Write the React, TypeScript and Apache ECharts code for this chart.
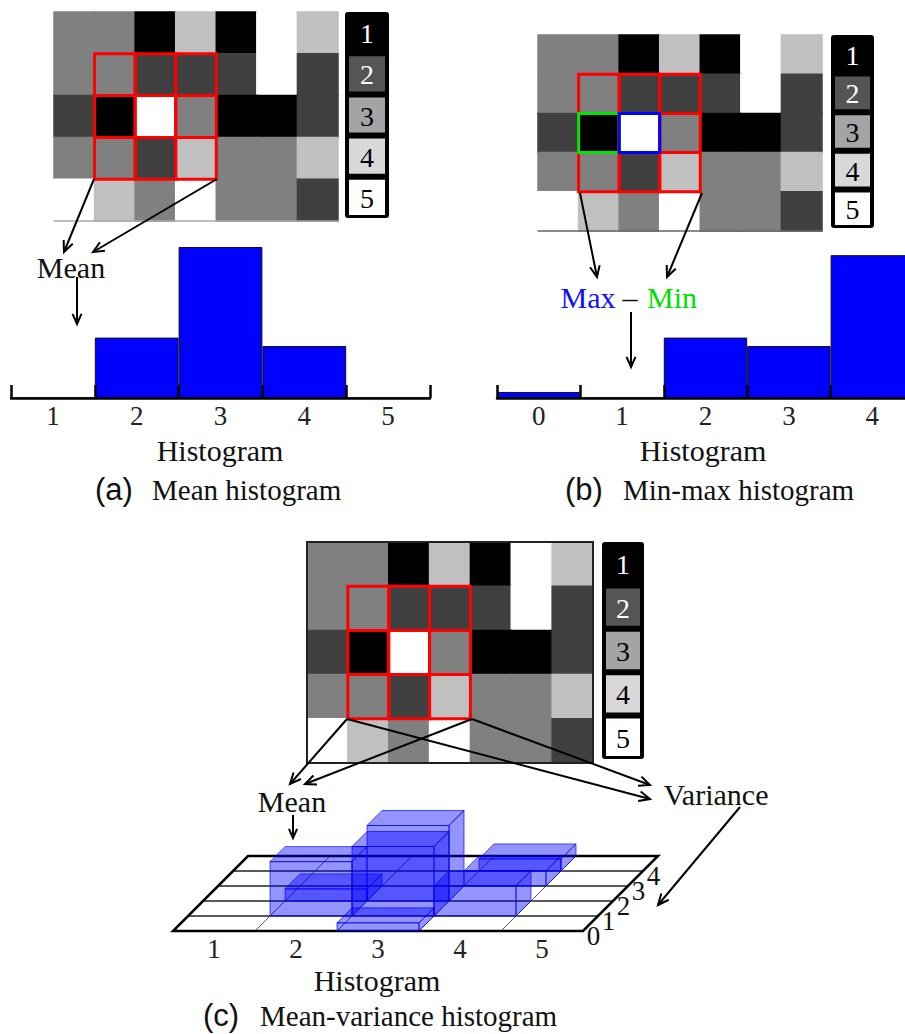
import React, { useEffect, useRef } from "react";
import * as echarts from "echarts";

// ---------- data ----------
const IMAGE: number[][] = [
  [3, 3, 1, 4, 1, 5, 4],
  [3, 3, 2, 2, 2, 5, 2],
  [2, 1, 5, 3, 1, 1, 2],
  [3, 3, 2, 4, 3, 3, 4],
  [5, 4, 3, 5, 3, 3, 2],
];
const IMG_COLS = ["0", "1", "2", "3", "4", "5", "6"];
const IMG_ROWS = ["0", "1", "2", "3", "4"];
const LEVELS = ["1", "2", "3", "4", "5"];
const CELL_COLORS = ["#000000", "#404040", "#808080", "#c0c0c0", "#ffffff"];
const LEGEND_COLORS = ["#000000", "#555555", "#a4a4a4", "#d8d8d8", "#ffffff"];
const WINDOW_COLS = [1, 2, 3];
const WINDOW_ROWS = [1, 2, 3];
const MIN_CELL = [1, 2];
const MAX_CELL = [2, 2];

const MEAN_BINS = ["1", "2", "3", "4", "5"];
const MEAN_HIST = [0, 2.0, 5.0, 1.72, 0];
const RANGE_BINS = ["0", "1", "2", "3", "4"];
const RANGE_HIST = [0.2, 0, 2.0, 1.72, 4.73];

const VAR_BINS = ["0", "1", "2", "3", "4"];
const MV_MEAN = ["2", "2", "3", "3", "3", "4", "4", "4"];
const MV_VAR = [1, 2, 0, 1, 2, 1, 3, 4];
const MV_COUNT = [1.8, 0.4, 0.27, 2.3, 2.5, 1.0, 0.5, 0.4];

// ---------- styling ----------
const SERIF = '"Liberation Serif", "Times New Roman", serif';
const SANS = '"Liberation Sans", Arial, sans-serif';
const INK = "#111";
const DEPTH = 15; // oblique projection step per variance bin (px)

const cellData: number[][] = [];
IMAGE.forEach((row, r) => row.forEach((v, c) => cellData.push([c, r, v])));
const windowData: number[][] = [];
WINDOW_ROWS.forEach((r) => WINDOW_COLS.forEach((c) => windowData.push([c, r])));
const markData = [
  [MIN_CELL[0], MIN_CELL[1], 0],
  [MAX_CELL[0], MAX_CELL[1], 1],
];
const MARK_COLORS = ["#00e600", "#0000ff"];
const mvData = MV_MEAN.map((m, i) => [MEAN_BINS.indexOf(m), MV_VAR[i], MV_COUNT[i]]).sort(
  (a, b) => b[1] - a[1] || a[0] - b[0]
);

function txt(text: string, x: number, y: number, size: number, opts: any = {}) {
  const align = opts.align || "center";
  return {
    type: "text",
    silent: true,
    z: 20,
    style: {
      text,
      x,
      y,
      fill: opts.fill || INK,
      fontSize: size,
      fontFamily: opts.family || SERIF,
      textAlign: align,
      textVerticalAlign: "middle",
      align,
      verticalAlign: "middle",
    },
  };
}

function arrow(x1: number, y1: number, x2: number, y2: number, head = 12) {
  const a = Math.atan2(y2 - y1, x2 - x1);
  const s = 0.42;
  return [
    { type: "line", silent: true, z: 20, shape: { x1, y1, x2, y2 }, style: { stroke: "#000", lineWidth: 2 } },
    {
      type: "polyline",
      silent: true,
      z: 20,
      shape: {
        points: [
          [x2 - head * Math.cos(a - s), y2 - head * Math.sin(a - s)],
          [x2, y2],
          [x2 - head * Math.cos(a + s), y2 - head * Math.sin(a + s)],
        ],
      },
      style: { stroke: "#000", lineWidth: 2, fill: null },
    },
  ];
}

function legendBox(x: number, y: number, w: number, h: number) {
  const slot = h / LEVELS.length;
  const out: any[] = [
    { type: "rect", silent: true, z: 10, shape: { x, y, width: w, height: h, r: 3 }, style: { fill: "#000" } },
  ];
  LEVELS.forEach((lab, i) => {
    out.push({
      type: "rect",
      silent: true,
      z: 11,
      shape: { x: x + 4, y: y + i * slot + 3, width: w - 8, height: slot - 6 },
      style: { fill: LEGEND_COLORS[i] },
    });
    out.push(txt(lab, x + w / 2, y + i * slot + slot / 2 + 1, 28, { fill: i < 2 ? "#fff" : "#000" }));
  });
  return out;
}

function renderCell(params: any, api: any) {
  const v = api.value(2);
  const p = api.coord([api.value(0), api.value(1)]);
  const s = api.size([1, 1]);
  const col = CELL_COLORS[v - 1];
  return {
    type: "rect",
    shape: { x: p[0] - s[0] / 2, y: p[1] - s[1] / 2, width: s[0], height: s[1] },
    style: { fill: col, stroke: col, lineWidth: 1.5 },
  };
}

function renderWindow(params: any, api: any) {
  const p = api.coord([api.value(0), api.value(1)]);
  const s = api.size([1, 1]);
  return {
    type: "rect",
    shape: { x: p[0] - s[0] / 2, y: p[1] - s[1] / 2, width: s[0], height: s[1] },
    style: { fill: null, stroke: "#ff0000", lineWidth: 3 },
  };
}

function renderMark(params: any, api: any) {
  const p = api.coord([api.value(0), api.value(1)]);
  const s = api.size([1, 1]);
  return {
    type: "rect",
    shape: { x: p[0] - s[0] / 2, y: p[1] - s[1] / 2, width: s[0], height: s[1] },
    style: { fill: null, stroke: MARK_COLORS[api.value(2)], lineWidth: 3 },
  };
}

function renderFloor(params: any, api: any) {
  const bw = api.size([1, 0])[0];
  const p0 = api.coord([0, 0]);
  const x0 = p0[0] - bw / 2;
  const y0 = p0[1];
  const n = MEAN_BINS.length;
  const m = VAR_BINS.length;
  const W = bw * n;
  const D = DEPTH * m;
  const children: any[] = [];
  children.push({
    type: "polygon",
    shape: { points: [[x0, y0], [x0 + W, y0], [x0 + W + D, y0 - D], [x0 + D, y0 - D]] },
    style: { fill: "#fff", stroke: null },
  });
  for (let k = 1; k < m; k++) {
    children.push({
      type: "line",
      shape: { x1: x0 + k * DEPTH, y1: y0 - k * DEPTH, x2: x0 + W + k * DEPTH, y2: y0 - k * DEPTH },
      style: { stroke: "#222", lineWidth: 1.5 },
    });
  }
  for (let j = 1; j < n; j++) {
    children.push({
      type: "line",
      shape: { x1: x0 + j * bw, y1: y0, x2: x0 + j * bw + D, y2: y0 - D },
      style: { stroke: "#555", lineWidth: 1 },
    });
  }
  children.push({
    type: "polygon",
    shape: { points: [[x0, y0], [x0 + W, y0], [x0 + W + D, y0 - D], [x0 + D, y0 - D]] },
    style: { fill: null, stroke: "#000", lineWidth: 2.5 },
  });
  VAR_BINS.forEach((lab, v) => {
    children.push({
      type: "text",
      style: {
        text: lab,
        x: x0 + W + v * DEPTH + DEPTH / 2 + 3,
        y: y0 - v * DEPTH - DEPTH / 2 + 12,
        fill: INK,
        fontSize: 27,
        fontFamily: SERIF,
        textAlign: "center",
        textVerticalAlign: "middle",
        align: "center",
        verticalAlign: "middle",
      },
    });
  });
  return { type: "group", children };
}

function renderBar3d(params: any, api: any) {
  const mi = api.value(0);
  const v = api.value(1);
  const h = api.value(2);
  const bw = api.size([1, 0])[0];
  const base = api.coord([mi, 0]);
  const top = api.coord([mi, h]);
  const H = base[1] - top[1];
  const x = base[0] - bw / 2 + v * DEPTH;
  const y = base[1] - v * DEPTH;
  const D = DEPTH;
  const st = { fill: "rgba(0,0,255,0.42)", stroke: "rgba(0,0,230,0.65)", lineWidth: 1 };
  return {
    type: "group",
    children: [
      { type: "rect", shape: { x, y: y - H, width: bw, height: H }, style: st },
      {
        type: "polygon",
        shape: { points: [[x, y - H], [x + bw, y - H], [x + bw + D, y - H - D], [x + D, y - H - D]] },
        style: st,
      },
      {
        type: "polygon",
        shape: { points: [[x + bw, y], [x + bw + D, y - D], [x + bw + D, y - H - D], [x + bw, y - H]] },
        style: st,
      },
    ],
  };
}

const imgX = (gridIndex: number, lineShow: boolean, color: string) => ({
  type: "category",
  gridIndex,
  data: IMG_COLS,
  axisLine: { show: lineShow, lineStyle: { color, width: 1.5 } },
  axisTick: { show: false },
  axisLabel: { show: false },
  splitLine: { show: false },
  z: 10,
});
const imgY = (gridIndex: number) => ({
  type: "category",
  gridIndex,
  data: IMG_ROWS,
  inverse: true,
  show: false,
});
const histX = (gridIndex: number, data: string[]) => ({
  type: "category",
  gridIndex,
  data,
  boundaryGap: true,
  axisLine: { show: true, lineStyle: { color: "#000", width: 2.5 } },
  axisTick: { show: true, inside: true, length: 13, alignWithLabel: false, lineStyle: { color: "#000", width: 2.5 } },
  axisLabel: { fontSize: 27, fontFamily: SERIF, color: "#222", margin: 4 },
  splitLine: { show: false },
  z: 10,
});
const valY = (gridIndex: number) => ({ type: "value", gridIndex, min: 0, max: 5, show: false });

const graphics: any[] = [
  // legends
  ...legendBox(345, 12, 44, 206),
  ...legendBox(831, 35, 43, 193),
  ...legendBox(602, 542, 42, 217),
  // frame of image (c)
  {
    type: "rect",
    silent: true,
    z: 9,
    shape: { x: 307, y: 542, width: 286, height: 221 },
    style: { fill: null, stroke: "#222", lineWidth: 2 },
  },
  // (a) annotations
  ...arrow(94, 179, 64, 252),
  ...arrow(217, 179, 93, 252),
  txt("Mean", 71, 267, 30),
  ...arrow(77, 277, 77, 324, 11),
  txt("Histogram", 220, 450, 30),
  txt("(a)", 95, 489, 31, { family: SANS, align: "left" }),
  txt("Mean histogram", 152, 490, 29, { align: "left" }),
  // (b) annotations
  ...arrow(580, 193, 597, 277),
  ...arrow(702, 193, 667, 277),
  txt("Max", 588, 297, 30, { fill: "#1010ff" }),
  txt("–", 630, 297, 30),
  txt("Min", 672, 297, 30, { fill: "#00e000" }),
  ...arrow(631, 312, 631, 367, 11),
  txt("Histogram", 703, 450, 30),
  txt("(b)", 565, 489, 31, { family: SANS, align: "left" }),
  txt("Min-max histogram", 623, 490, 29, { align: "left" }),
  // (c) annotations
  ...arrow(347, 719, 290, 784),
  ...arrow(472, 719, 305, 784),
  ...arrow(347, 719, 650, 799),
  ...arrow(472, 719, 650, 785),
  txt("Mean", 292, 801, 30),
  ...arrow(293, 815, 293, 838, 10),
  txt("Variance", 716, 794, 30),
  ...arrow(740, 807, 658, 905),
  txt("Histogram", 377, 980, 30),
  txt("(c)", 203, 1015, 31, { family: SANS, align: "left" }),
  txt("Mean-variance histogram", 260, 1016, 29, { align: "left" }),
];

const option: any = {
  animation: false,
  backgroundColor: "#fff",
  grid: [
    { left: 54, top: 12, width: 284, height: 209, outerBoundsMode: "none" },
    { left: 11, top: 247, width: 419, height: 151, outerBoundsMode: "none" },
    { left: 538, top: 35, width: 284, height: 196, outerBoundsMode: "none" },
    { left: 497, top: 247, width: 417, height: 151, outerBoundsMode: "none" },
    { left: 307, top: 542, width: 286, height: 221, outerBoundsMode: "none" },
    { left: 173, top: 780, width: 410, height: 151, outerBoundsMode: "none" },
  ],
  xAxis: [
    imgX(0, true, "#aaa"),
    histX(1, MEAN_BINS),
    imgX(2, true, "#666"),
    histX(3, RANGE_BINS),
    imgX(4, false, "#222"),
    {
      type: "category",
      gridIndex: 5,
      data: MEAN_BINS,
      axisLine: { show: false },
      axisTick: { show: false },
      axisLabel: { fontSize: 27, fontFamily: SERIF, color: "#222", margin: 4 },
      splitLine: { show: false },
    },
  ],
  yAxis: [imgY(0), valY(1), imgY(2), valY(3), imgY(4), valY(5)],
  graphic: graphics,
  series: [
    { type: "custom", xAxisIndex: 0, yAxisIndex: 0, renderItem: renderCell, data: cellData, silent: true, z: 1 },
    { type: "custom", xAxisIndex: 0, yAxisIndex: 0, renderItem: renderWindow, data: windowData, silent: true, z: 3 },
    {
      type: "bar",
      xAxisIndex: 1,
      yAxisIndex: 1,
      data: MEAN_HIST,
      barCategoryGap: "0%",
      silent: true,
      itemStyle: { color: "#0000ff", borderColor: "#111", borderWidth: 1 },
    },
    { type: "custom", xAxisIndex: 2, yAxisIndex: 2, renderItem: renderCell, data: cellData, silent: true, z: 1 },
    { type: "custom", xAxisIndex: 2, yAxisIndex: 2, renderItem: renderWindow, data: windowData, silent: true, z: 3 },
    { type: "custom", xAxisIndex: 2, yAxisIndex: 2, renderItem: renderMark, data: markData, silent: true, z: 4 },
    {
      type: "bar",
      xAxisIndex: 3,
      yAxisIndex: 3,
      data: RANGE_HIST,
      barCategoryGap: "0%",
      silent: true,
      itemStyle: { color: "#0000ff", borderColor: "#111", borderWidth: 1 },
    },
    { type: "custom", xAxisIndex: 4, yAxisIndex: 4, renderItem: renderCell, data: cellData, silent: true, z: 1 },
    { type: "custom", xAxisIndex: 4, yAxisIndex: 4, renderItem: renderWindow, data: windowData, silent: true, z: 3 },
    { type: "custom", xAxisIndex: 5, yAxisIndex: 5, renderItem: renderFloor, data: [[0, 0]], silent: true, z: 1 },
    {
      type: "custom",
      xAxisIndex: 5,
      yAxisIndex: 5,
      renderItem: renderBar3d,
      data: mvData,
      encode: { x: 0, y: 2 },
      silent: true,
      z: 2,
    },
  ],
};

export default function App() {
  const ref = useRef<HTMLDivElement>(null);
  useEffect(() => {
    const chart = echarts.init(ref.current as HTMLDivElement, null, { renderer: "svg" });
    chart.setOption(option);
    return () => chart.dispose();
  }, []);
  return (
    <div
      ref={ref}
      style={{ position: "absolute", left: 0, top: 0, width: 905, height: 1034, background: "#fff" }}
    />
  );
}
